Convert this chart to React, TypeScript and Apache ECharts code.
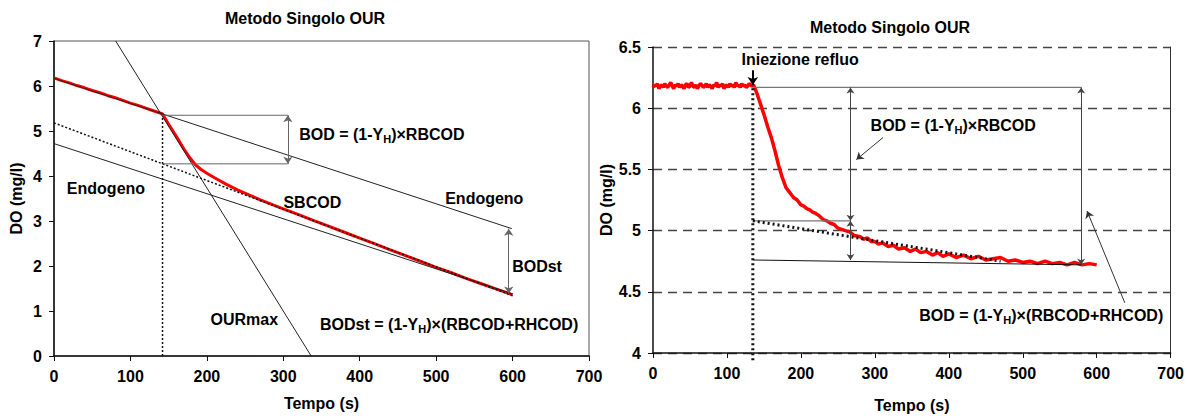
import React, { useEffect, useRef } from "react";
import * as echarts from "echarts";

const FONT = '"Liberation Sans", Arial, sans-serif';

// ---------- axis ticks ----------
const xTicks = { min: 0, max: 700, interval: 100 };
const yLeft = { min: 0, max: 7, interval: 1 };
const yRight = { min: 4, max: 6.5, interval: 0.5 };

// ---------- left chart data ----------
const leftDO: [number, number][] = [
  [0, 6.18], [10, 6.12], [20, 6.07], [30, 6.01], [40, 5.96], [50, 5.9], [60, 5.85], [70, 5.79],
  [80, 5.74], [90, 5.68], [100, 5.62], [110, 5.57], [120, 5.51], [130, 5.45], [142, 5.38],
  [150, 5.15], [160, 4.88], [170, 4.6], [178, 4.4], [185, 4.25], [192, 4.15], [200, 4.06],
  [210, 3.96], [225, 3.82], [240, 3.69], [255, 3.58], [270, 3.47], [285, 3.37], [300, 3.27],
  [320, 3.14], [340, 3.01], [360, 2.88], [380, 2.75], [400, 2.62], [420, 2.49], [440, 2.36],
  [460, 2.23], [480, 2.1], [500, 1.97], [520, 1.85], [540, 1.72], [560, 1.6], [580, 1.48], [600, 1.36],
];
const leftOURmax: [number, number][] = [[80.7, 7], [336.5, 0]];
const leftEndoUpper: [number, number][] = [[0, 6.17], [599, 2.83]];
const leftEndoLower: [number, number][] = [[0, 4.72], [600, 1.38]];
const leftSBCOD: [number, number][] = [[0, 5.18], [600, 1.34]];
const leftInjection: [number, number][] = [[142, 0], [142, 5.36]];
const leftRectTop: [number, number][] = [[141, 5.35], [306, 5.35]];
const leftRectBottom: [number, number][] = [[142, 4.27], [306, 4.27]];
const leftArrows: [number, number][][] = [
  [[306, 5.35], [306, 4.27]],
  [[595, 2.83], [595, 1.39]],
];
const leftLabels = [
  { x: 429, y: 4.92, text: "BOD = (1-Y{s|H})×RBCOD" },
  { x: 68, y: 3.73, text: "Endogeno" },
  { x: 563, y: 3.51, text: "Endogeno" },
  { x: 338, y: 3.42, text: "SBCOD" },
  { x: 632, y: 1.98, text: "BODst" },
  { x: 249, y: 0.82, text: "OURmax" },
  { x: 517, y: 0.7, text: "BODst = (1-Y{s|H})×(RBCOD+RHCOD)" },
];

// ---------- right chart data ----------
const rightFlatX = [
  0, 2, 4, 6, 8, 10, 12, 14, 16, 18, 20, 22, 24, 26, 28, 30, 32, 34, 36, 38,
  40, 42, 44, 46, 48, 50, 52, 54, 56, 58, 60, 62, 64, 66, 68, 70, 72, 74, 76, 78,
  80, 82, 84, 86, 88, 90, 92, 94, 96, 98, 100, 102, 104, 106, 108, 110, 112, 114, 116, 118,
  120, 122, 124, 126, 128, 130, 132, 134,
];
const rightFlatY = [
  6.17, 6.19, 6.18, 6.2, 6.16, 6.18, 6.19, 6.17, 6.2, 6.18, 6.17, 6.19, 6.21, 6.18, 6.16, 6.19, 6.18, 6.2, 6.17, 6.19,
  6.18, 6.16, 6.19, 6.2, 6.17, 6.18, 6.21, 6.18, 6.17, 6.19, 6.16, 6.18, 6.2, 6.19, 6.17, 6.18, 6.2, 6.17, 6.19, 6.18,
  6.16, 6.19, 6.18, 6.21, 6.17, 6.19, 6.18, 6.2, 6.16, 6.18, 6.19, 6.17, 6.2, 6.18, 6.19, 6.17, 6.21, 6.18, 6.19, 6.17,
  6.2, 6.18, 6.19, 6.17, 6.18, 6.2, 6.19, 6.18,
];
const rightDropDO: [number, number][] = [
  [136, 6.19], [138, 6.16], [140, 6.13], [145, 6.04], [150, 5.95], [155, 5.85], [160, 5.76], [165, 5.65],
  [170, 5.53], [175, 5.43], [180, 5.35], [185, 5.31], [190, 5.27], [195, 5.25], [200, 5.21],
  [204, 5.2], [208, 5.18], [212, 5.17], [216, 5.15], [220, 5.14], [225, 5.12], [230, 5.09], [235, 5.08],
  [240, 5.06], [245, 5.05], [250, 5.02], [255, 5.01], [260, 5.0], [266, 4.99], [272, 4.96], [280, 4.95],
  [285, 4.93], [290, 4.94], [295, 4.91], [300, 4.91], [305, 4.89], [310, 4.9], [318, 4.87], [325, 4.88],
  [332, 4.85], [340, 4.86], [348, 4.83], [355, 4.85], [362, 4.82], [370, 4.83], [378, 4.8], [385, 4.82],
  [392, 4.79], [400, 4.81], [410, 4.78], [420, 4.8], [430, 4.77], [440, 4.79], [450, 4.76], [460, 4.77],
  [470, 4.78], [480, 4.75], [490, 4.76], [500, 4.74], [510, 4.75], [520, 4.73], [530, 4.75], [540, 4.73],
  [550, 4.74], [560, 4.72], [570, 4.74], [580, 4.72], [590, 4.73], [600, 4.72],
];
const rightInjection: [number, number][] = [[135, 3.94], [135, 6.19]];
const rightTopLine: [number, number][] = [[135, 6.17], [579, 6.17]];
const rightMidLine: [number, number][] = [[135, 5.08], [267, 5.08]];
const rightSBCOD: [number, number][] = [[135, 5.08], [470, 4.75]];
const rightEndo: [number, number][] = [[135, 4.76], [579, 4.72]];
const rightDoubleArrows: [number, number][][] = [
  [[267, 6.17], [267, 5.08]],
  [[267, 5.08], [267, 4.76]],
  [[579, 6.17], [579, 4.72]],
];
const rightPointers: [number, number][][] = [
  [[311, 5.76], [275, 5.58]],
  [[638, 4.41], [587, 5.16]],
];
const rightInjArrow: [number, number][] = [[135, 6.31], [135, 6.19]];
const rightLabels = [
  { x: 199, y: 6.4, text: "Iniezione refluo" },
  { x: 406, y: 5.86, text: "BOD = (1-Y{s|H})×RBCOD" },
  { x: 525, y: 4.31, text: "BOD = (1-Y{s|H})×(RBCOD+RHCOD)" },
];

const titleText = "Metodo Singolo OUR";
const xName = "Tempo (s)";
const yName = "DO (mg/l)";

const textStyle = { color: "#000", fontSize: 16, fontWeight: "bold" as const, fontFamily: FONT };

function lineSeries(idx: number, data: [number, number][], color: string, width: number, type: any = "solid", extra: any = {}) {
  return {
    type: "line",
    xAxisIndex: idx,
    yAxisIndex: idx,
    data,
    showSymbol: false,
    symbol: "none",
    silent: true,
    lineStyle: { color, width, type },
    z: 3,
    ...extra,
  };
}

function arrowSeries(idx: number, pairs: [number, number][][], color: string, width: number, symbols: [string, string], size: number) {
  return {
    type: "line",
    xAxisIndex: idx,
    yAxisIndex: idx,
    data: [],
    silent: true,
    z: 4,
    markLine: {
      silent: true,
      animation: false,
      symbol: symbols,
      symbolSize: size,
      label: { show: false },
      lineStyle: { color, width, type: "solid" },
      emphasis: { disabled: true },
      data: pairs.map((p) => [{ coord: p[0] }, { coord: p[1] }]),
    },
  };
}

function xAxis(gridIndex: number, nameGap: number) {
  return {
    gridIndex,
    type: "value",
    z: 5,
    ...xTicks,
    axisLine: { show: true, onZero: false, lineStyle: { color: "#111", width: 1.5 } },
    axisTick: { show: true, length: 5, lineStyle: { color: "#111" } },
    axisLabel: { ...textStyle, margin: 12 },
    splitLine: { show: false },
    name: xName,
    nameLocation: "middle",
    nameGap,
    nameTextStyle: textStyle,
  };
}

export default function App() {
  const ref = useRef<HTMLDivElement>(null);
  useEffect(() => {
    if (!ref.current) return;
    const chart = echarts.init(ref.current, null, { renderer: "svg" });
    const rightRed: [number, number][] = rightFlatX.map((x, i) => [x, rightFlatY[i]] as [number, number]).concat(rightDropDO);
    const option: any = {
      animation: false,
      backgroundColor: "#fff",
      grid: [
        { left: 54, top: 41, width: 535, height: 315, show: true, borderColor: "#555", borderWidth: 1, backgroundColor: "transparent" },
        { left: 653, top: 47, width: 518, height: 308, show: false },
      ],
      xAxis: [xAxis(0, 39), xAxis(1, 44)],
      yAxis: [
        {
          gridIndex: 0,
          type: "value",
          ...yLeft,
          axisLine: { show: true, onZero: false, lineStyle: { color: "#111", width: 1.5 } },
          axisTick: { show: true, length: 5, lineStyle: { color: "#111" } },
          axisLabel: { ...textStyle, margin: 12 },
          splitLine: { show: false },
          name: yName,
          nameLocation: "middle",
          nameGap: 30,
          nameTextStyle: textStyle,
        },
        {
          gridIndex: 1,
          type: "value",
          ...yRight,
          axisLine: { show: true, onZero: false, lineStyle: { color: "#111", width: 1.5 } },
          axisTick: { show: true, length: 5, lineStyle: { color: "#111" } },
          axisLabel: { ...textStyle, margin: 12 },
          splitLine: { show: true, lineStyle: { color: "#444", width: 1.3, type: [9, 6] } },
          name: yName,
          nameLocation: "middle",
          nameGap: 29,
          nameTextStyle: textStyle,
        },
        {
          gridIndex: 1,
          type: "value",
          position: "right",
          ...yRight,
          axisLine: { show: true, onZero: false, lineStyle: { color: "#333", width: 1 } },
          axisTick: { show: false },
          axisLabel: { show: false },
          splitLine: { show: false },
        },
      ],
      series: [
        // left chart
        lineSeries(0, leftDO, "#ff0000", 3, "solid", { z: 2 }),
        lineSeries(0, leftOURmax, "#222", 1),
        lineSeries(0, leftEndoUpper, "#222", 1),
        lineSeries(0, leftEndoLower, "#222", 1),
        lineSeries(0, leftSBCOD, "#111", 1.5, [2, 2]),
        lineSeries(0, leftInjection, "#111", 1.5, [2, 2]),
        lineSeries(0, leftRectTop, "#666", 1),
        lineSeries(0, leftRectBottom, "#666", 1),
        arrowSeries(0, leftArrows, "#666", 1, ["arrow", "arrow"], 7),
        // right chart
        lineSeries(1, rightRed, "#ff0000", 3.5, "solid", { z: 2 }),
        lineSeries(1, rightInjection, "#111", 3, [2, 3], { clip: false }),
        lineSeries(1, rightTopLine, "#777", 1.2),
        lineSeries(1, rightMidLine, "#777", 1.2),
        lineSeries(1, rightSBCOD, "#111", 3, [2, 3]),
        lineSeries(1, rightEndo, "#111", 1),
        arrowSeries(1, rightDoubleArrows, "#444", 1, ["arrow", "arrow"], 6),
        arrowSeries(1, rightPointers, "#333", 1, ["none", "arrow"], 7),
        arrowSeries(1, [rightInjArrow], "#000", 2, ["none", "arrow"], 8),
      ],
    };
    chart.setOption(option);

    const font = `bold 16px ${FONT}`;
    const rich = { s: { fontSize: 11, fontWeight: "bold", fontFamily: FONT, fill: "#000", verticalAlign: "bottom", lineHeight: 12 } };
    const labelGraphics = [
      ...leftLabels.map((d) => ({ ...d, g: 0 })),
      ...rightLabels.map((d) => ({ ...d, g: 1 })),
    ].map((d) => {
      const p = chart.convertToPixel({ gridIndex: d.g } as any, [d.x, d.y]) as number[];
      return {
        type: "text",
        x: p[0],
        y: p[1],
        z: 100,
        silent: true,
        style: { text: d.text, font, fill: "#000", textAlign: "center", textVerticalAlign: "middle", lineHeight: 20, rich },
      };
    });
    chart.setOption({
      graphic: [
        { type: "text", x: 305, y: 18, style: { text: titleText, font, fill: "#000", textAlign: "center", textVerticalAlign: "middle" } },
        { type: "text", x: 890, y: 27, style: { text: titleText, font, fill: "#000", textAlign: "center", textVerticalAlign: "middle" } },
        ...labelGraphics,
      ],
    });
    return () => chart.dispose();
  }, []);
  return <div ref={ref} style={{ position: "fixed", left: 0, top: 0, width: 1187, height: 418, background: "#fff" }} />;
}
